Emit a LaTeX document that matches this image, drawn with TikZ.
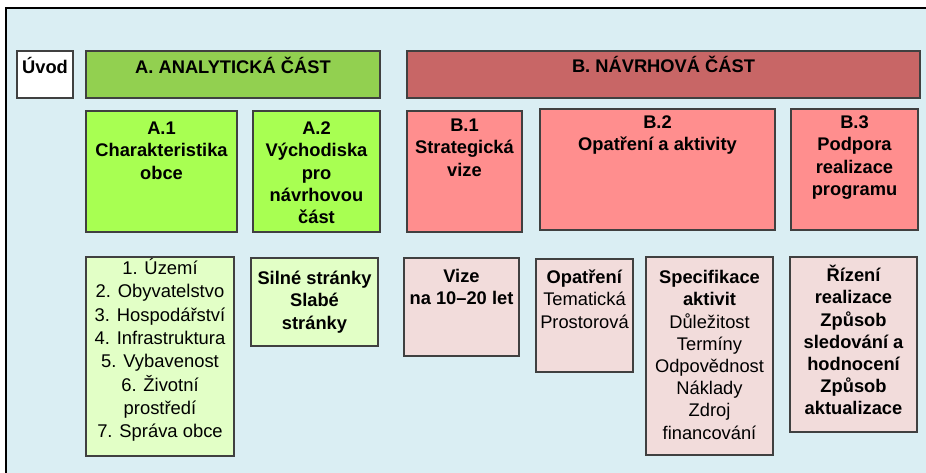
\documentclass[tikz,border=0pt]{standalone}
\usepackage{fontspec}
\setmainfont{Liberation Sans}
\usetikzlibrary{fit}
\definecolor{bgblue}{HTML}{DAEEF3}
\definecolor{boxline}{HTML}{404040}
\definecolor{ahdrc}{HTML}{92D050}
\definecolor{agreen}{HTML}{A8FF52}
\definecolor{alight}{HTML}{E2FFC6}
\definecolor{bhdrc}{HTML}{C86666}
\definecolor{bred}{HTML}{FF8E8E}
\definecolor{bpink}{HTML}{F2DCDB}
\newcommand\firstl{\rule{0pt}{18pt}}
\begin{document}
\begin{tikzpicture}[x=1pt,y=-1pt,
  box/.style={draw=boxline, line width=1.2pt, inner sep=0pt},
  txt/.style={anchor=north, inner sep=0pt, align=center,
    font=\fontsize{18.3}{22.2}\selectfont},
  btxt/.style={txt, font=\fontsize{18.3}{22.2}\selectfont\bfseries},
  listtxt/.style={txt, font=\fontsize{18.4}{23.3}\selectfont}]
\useasboundingbox (0,0) rectangle (926,472);
\fill[white] (0,0) rectangle (926,472);
\fill[bgblue] (6,8) rectangle (932,478);
\draw[line width=2pt, black] (6,480) -- (6,8) -- (932,8);
% boxes
\node[box, fill=white, fit={(17,51) (73,98)}] (uvod) {};
\node[box, fill=ahdrc, fit={(86,51) (380,98)}] (ahdr) {};
\node[box, fill=bhdrc, fit={(407,51) (920,98)}] (bhdr) {};
\node[box, fill=agreen, fit={(86,111) (237,232)}] (a1) {};
\node[box, fill=agreen, fit={(253,111) (380,232)}] (a2) {};
\node[box, fill=bred, fit={(407,111) (522,232)}] (b1) {};
\node[box, fill=bred, fit={(540,109) (775,230)}] (b2) {};
\node[box, fill=bred, fit={(791,109) (918,230)}] (b3) {};
\node[box, fill=alight, fit={(86,257) (234,456)}] (alist) {};
\node[box, fill=alight, fit={(251,258) (378,346)}] (swot) {};
\node[box, fill=bpink, fit={(404,258) (519,356)}] (vize) {};
\node[box, fill=bpink, fit={(536,259) (633,372)}] (opat) {};
\node[box, fill=bpink, fit={(646,257) (773,455)}] (spec) {};
\node[box, fill=bpink, fit={(790,257) (917,432)}] (rizeni) {};
% texts
\node[btxt] (uvodt) at ([yshift=-5pt]uvod.north) {\firstl Úvod};
\node[btxt] (ahdrt) at ([yshift=-5pt]ahdr.north) {\firstl A. ANALYTICKÁ ČÁST};
\node[btxt] (bhdrt) at ([yshift=-4pt]bhdr.north) {\firstl B. NÁVRHOVÁ ČÁST};
\node[btxt] (a1t) at ([yshift=-6pt]a1.north) {\firstl A.1\\Charakteristika\\obce};
\node[btxt] (a2t) at ([yshift=-6pt]a2.north) {\firstl A.2\\Východiska\\pro\\návrhovou\\část};
\node[btxt] (b1t) at ([yshift=-3pt]b1.north) {\firstl B.1\\Strategická\\vize};
\node[btxt] (b2t) at ([yshift=-2pt]b2.north) {\firstl B.2\\Opatření a aktivity};
\node[btxt] (b3t) at ([yshift=-2pt]b3.north) {\firstl B.3\\Podpora\\realizace\\programu};
\node[listtxt] (alistt) at ([yshift=0pt]alist.north) {\firstl 1. Území\\2. Obyvatelstvo\\3. Hospodářství\\4. Infrastruktura\\5. Vybavenost\\6. Životní\\prostředí\\7. Správa obce};
\node[btxt] (swott) at ([yshift=-9pt]swot.north) {\firstl Silné stránky\\Slabé\\stránky};
\node[btxt] (vizet) at ([yshift=-7pt]vize.north) {\firstl Vize\\na 10–20 let};
\node[txt] (opatt) at ([yshift=-7pt]opat.north) {\firstl\textbf{Opatření}\\Tematická\\Prostorová};
\node[txt] (spect) at ([yshift=-9pt]spec.north) {\firstl\textbf{Specifikace}\\\textbf{aktivit}\\Důležitost\\Termíny\\Odpovědnost\\Náklady\\Zdroj\\financování};
\node[btxt] (rizenit) at ([yshift=-7pt]rizeni.north) {\firstl Řízení\\realizace\\Způsob\\sledování a\\hodnocení\\Způsob\\aktualizace};
\end{tikzpicture}
\end{document}
